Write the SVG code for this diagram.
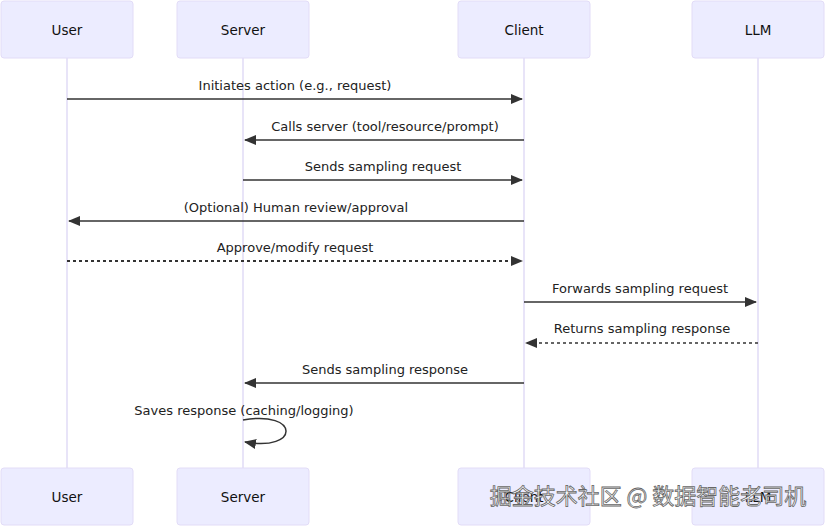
<svg xmlns="http://www.w3.org/2000/svg" width="825" height="526" viewBox="0 0 825 526">
<defs>
<marker id="ah" viewBox="0 0 12 10" refX="11" refY="5" markerWidth="12" markerHeight="10" markerUnits="userSpaceOnUse" orient="auto">
<path d="M0,0 L12,5 L0,10 z" fill="#333"/>
</marker>
</defs>
<style>
.actor{fill:#ECECFF;stroke:#E2DCF7;stroke-width:1}
.atext{font-family:"DejaVu Sans",Verdana,sans-serif;font-size:13.5px;fill:#111;text-anchor:middle}
.life{stroke:#D9D2F4;stroke-width:1.2}
.msg{stroke:#333;stroke-width:1.5;fill:none;marker-end:url(#ah)}
.dot{stroke-dasharray:3,3}
.mtext{font-family:"DejaVu Sans",Verdana,sans-serif;font-size:13px;fill:#222;text-anchor:middle}
.wm{font-family:"Noto Sans CJK SC","Liberation Sans",sans-serif;font-size:22px;fill:#fff;stroke:#666;stroke-width:0.8;text-anchor:middle}
</style>
<rect width="825" height="526" fill="#fff"/>
<g id="lifelines">
<line class="life" x1="67" y1="58" x2="67" y2="468"/>
<line class="life" x1="243" y1="58" x2="243" y2="468"/>
<line class="life" x1="524" y1="58" x2="524" y2="468"/>
<line class="life" x1="758" y1="58" x2="758" y2="468"/>
</g>
<g id="user-top"><rect class="actor" x="1" y="1" width="132" height="57" rx="3"/><text class="atext" x="67" y="35">User</text></g>
<g id="server-top"><rect class="actor" x="177" y="1" width="132" height="57" rx="3"/><text class="atext" x="243" y="35">Server</text></g>
<g id="client-top"><rect class="actor" x="458" y="1" width="132" height="57" rx="3"/><text class="atext" x="524" y="35">Client</text></g>
<g id="llm-top"><rect class="actor" x="692" y="1" width="132" height="57" rx="3"/><text class="atext" x="758" y="35">LLM</text></g>
<g id="user-bottom"><rect class="actor" x="1" y="468" width="132" height="57" rx="3"/><text class="atext" x="67" y="502">User</text></g>
<g id="server-bottom"><rect class="actor" x="177" y="468" width="132" height="57" rx="3"/><text class="atext" x="243" y="502">Server</text></g>
<g id="client-bottom"><rect class="actor" x="458" y="468" width="132" height="57" rx="3"/><text class="atext" x="524" y="502">Client</text></g>
<g id="llm-bottom"><rect class="actor" x="692" y="468" width="132" height="57" rx="3"/><text class="atext" x="758" y="502">LLM</text></g>
<g id="connectors">
<path class="msg" d="M67,99 H522"/>
<path class="msg" d="M524,140 H245"/>
<path class="msg" d="M243,180 H522"/>
<path class="msg" d="M524,221 H69"/>
<path class="msg dot" style="stroke-width:2" d="M67,261 H522"/>
<path class="msg" d="M524,302 H756"/>
<path class="msg dot" d="M758,343 H526"/>
<path class="msg" d="M524,383 H245"/>
<path class="msg" d="M243,420 C300,410 300,452 245,442"/>
</g>
<g id="labels">
<text class="mtext" x="295" y="90">Initiates action (e.g., request)</text>
<text class="mtext" x="385" y="131">Calls server (tool/resource/prompt)</text>
<text class="mtext" x="383" y="171">Sends sampling request</text>
<text class="mtext" x="296" y="212">(Optional) Human review/approval</text>
<text class="mtext" x="295" y="252">Approve/modify request</text>
<text class="mtext" x="640" y="293">Forwards sampling request</text>
<text class="mtext" x="642" y="333">Returns sampling response</text>
<text class="mtext" x="385" y="374">Sends sampling response</text>
<text class="mtext" x="244" y="415">Saves response (caching/logging)</text>
</g>
<text class="wm" x="648" y="504">掘金技术社区 @ 数据智能老司机</text>
</svg>
